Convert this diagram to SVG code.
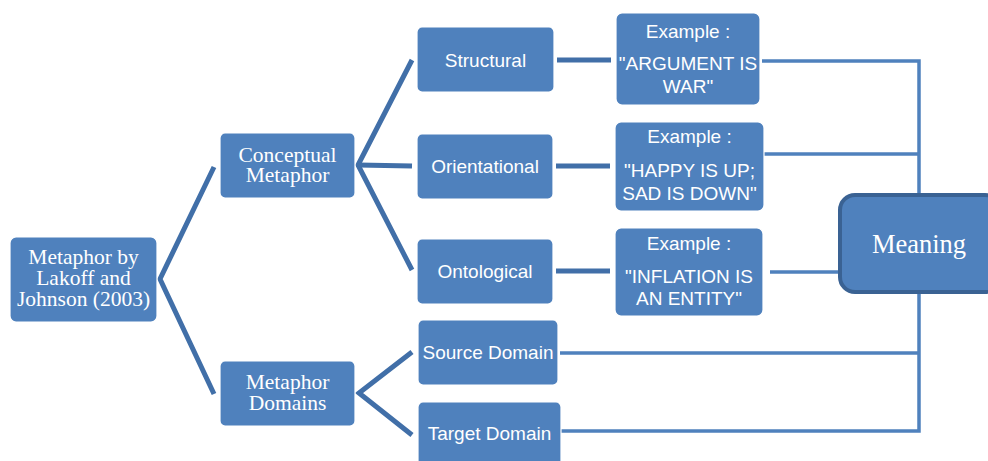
<svg xmlns="http://www.w3.org/2000/svg" width="988" height="461" viewBox="0 0 988 461">
<style>
.box{fill:#4F81BD;stroke:#ffffff;stroke-width:1.2}
.meaning{fill:#4F81BD;stroke:#3A6293;stroke-width:4}
.thick{stroke:#416FA8;stroke-width:5;fill:none;stroke-linecap:butt}
.thin{stroke:#4F81BD;stroke-width:3.5;fill:none}
.sans{font-family:"Liberation Sans",Arial,sans-serif;font-size:19px;fill:#ffffff;text-anchor:middle}
.serif{font-family:"Liberation Serif","Times New Roman",serif;font-size:21.5px;fill:#ffffff;text-anchor:middle}
</style>
<rect width="988" height="461" fill="#ffffff"/>
<g id="connectors">
<polyline class="thick" points="214,167 160,279 214,394"/>
<polyline class="thick" points="412,60 358,165 412,270"/>
<line class="thick" x1="358" y1="165" x2="412" y2="166"/>
<polyline class="thick" points="412,352 359,393 412,435"/>
<line class="thick" x1="557" y1="60" x2="611" y2="60"/>
<line class="thick" x1="556" y1="166" x2="610" y2="166"/>
<line class="thick" x1="556" y1="271" x2="610" y2="271"/>
<polyline class="thin" points="762,61 919,61 919,193"/>
<line class="thin" x1="764" y1="154" x2="919" y2="154"/>
<line class="thin" x1="770" y1="272" x2="838" y2="272"/>
<polyline class="thin" points="919,294 919,431 561,431"/>
<line class="thin" x1="560" y1="353" x2="919" y2="353"/>
</g>
<g id="root">
<rect class="box" x="10" y="237" width="147" height="85" rx="6"/>
<text class="serif" x="83.5" y="264">Metaphor by</text>
<text class="serif" x="83.5" y="285">Lakoff and</text>
<text class="serif" x="83.5" y="306">Johnson (2003)</text>
</g>
<g id="conceptual">
<rect class="box" x="220" y="133" width="135" height="65" rx="5"/>
<text class="serif" x="287.5" y="162">Conceptual</text>
<text class="serif" x="287.5" y="182">Metaphor</text>
</g>
<g id="domains">
<rect class="box" x="220" y="361" width="135" height="65" rx="5"/>
<text class="serif" x="287.5" y="389">Metaphor</text>
<text class="serif" x="287.5" y="410">Domains</text>
</g>
<g id="structural">
<rect class="box" x="417" y="27" width="137" height="65" rx="5"/>
<text class="sans" x="485.5" y="67">Structural</text>
</g>
<g id="orientational">
<rect class="box" x="417" y="134" width="136" height="65" rx="5"/>
<text class="sans" x="485" y="173">Orientational</text>
</g>
<g id="ontological">
<rect class="box" x="417" y="239" width="136" height="65" rx="5"/>
<text class="sans" x="485" y="278">Ontological</text>
</g>
<g id="source">
<rect class="box" x="418" y="320" width="140" height="65" rx="5"/>
<text class="sans" x="488" y="359">Source Domain</text>
</g>
<g id="target">
<rect class="box" x="418" y="402" width="143" height="66" rx="5"/>
<text class="sans" x="489.5" y="440">Target Domain</text>
</g>
<g id="example1">
<rect class="box" x="616" y="13" width="144" height="92" rx="6"/>
<text class="sans" x="688" y="38">Example :</text>
<text class="sans" x="688" y="70">"ARGUMENT IS</text>
<text class="sans" x="688" y="93">WAR"</text>
</g>
<g id="example2">
<rect class="box" x="615" y="122" width="149" height="89" rx="6"/>
<text class="sans" x="689.5" y="143">Example :</text>
<text class="sans" x="689.5" y="177">"HAPPY IS UP;</text>
<text class="sans" x="689.5" y="200">SAD IS DOWN"</text>
</g>
<g id="example3">
<rect class="box" x="615" y="228" width="148" height="88" rx="6"/>
<text class="sans" x="689" y="250">Example :</text>
<text class="sans" x="689" y="283">"INFLATION IS</text>
<text class="sans" x="689" y="305">AN ENTITY"</text>
</g>
<g id="meaning">
<rect class="meaning" x="840" y="195" width="160" height="97" rx="15"/>
<text class="serif" x="919" y="253" style="font-size:26.5px">Meaning</text>
</g>
</svg>
